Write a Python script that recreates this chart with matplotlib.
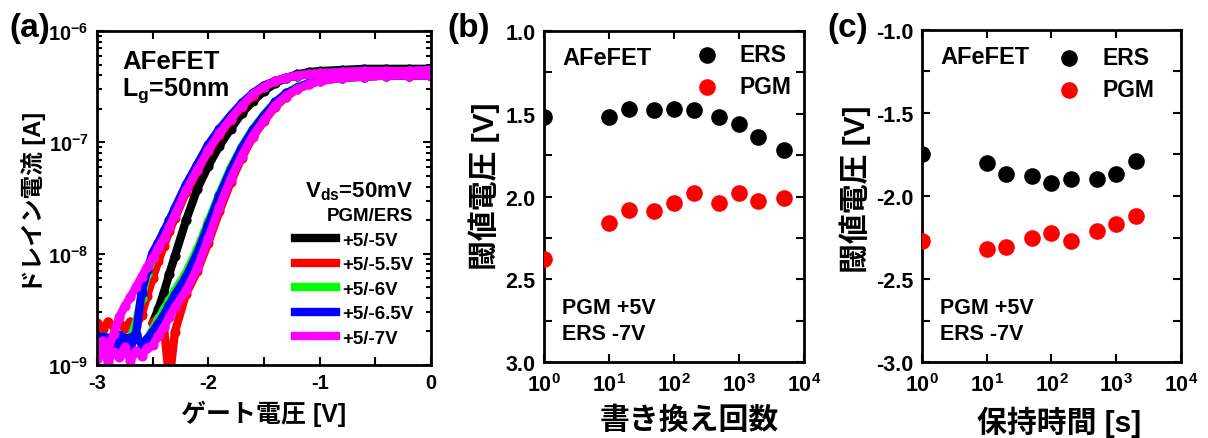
import numpy as np
import matplotlib
matplotlib.use("Agg")
import matplotlib.pyplot as plt
from matplotlib.lines import Line2D
from matplotlib.ticker import MultipleLocator, FormatStrFormatter, LogLocator, NullFormatter

plt.rcParams['font.family'] = ['Liberation Sans', 'Noto Sans CJK JP']
plt.rcParams['font.weight'] = 'bold'
plt.rcParams['axes.labelweight'] = 'bold'
plt.rcParams['axes.unicode_minus'] = False
plt.rcParams['mathtext.fontset'] = 'custom'
plt.rcParams['mathtext.rm'] = 'Liberation Sans:bold'
plt.rcParams['mathtext.it'] = 'Liberation Sans:bold'
plt.rcParams['mathtext.bf'] = 'Liberation Sans:bold'

# --- (a) Id-Vg curves, log10(Id [A]) read at each gate voltage ---
gate_v = [-3.0, -2.95, -2.9, -2.85, -2.8, -2.75, -2.7, -2.65, -2.6, -2.55, -2.5, -2.45, -2.4, -2.35, -2.3,
          -2.2, -2.1, -2.0, -1.9, -1.8, -1.7, -1.6, -1.5, -1.4, -1.3, -1.2, -1.1, -1.0,
          -0.8, -0.6, -0.4, -0.2, 0.0]
nan = float('nan')

log_id_black = [nan, nan, nan, nan, nan, nan, nan, nan, nan, nan, -8.62, -8.50, -8.35, -8.18, -8.02,
                -7.70, -7.42, -7.21, -7.03, -6.88, -6.74, -6.63, -6.54, -6.47, -6.42, -6.39, -6.37, -6.36,
                -6.35, -6.34, -6.34, -6.34, -6.34]
log_id_red_ers = [-8.62, -8.68, -8.61, -8.66, -8.62, -8.67, -8.61, -8.65, -8.55, -8.38, -8.22, -8.07, -7.93, -7.80, -7.68,
                  -7.45, -7.26, -7.08, -6.93, -6.80, -6.68, -6.58, -6.50, -6.45, -6.42, -6.40, -6.39, -6.38,
                  -6.37, -6.36, -6.36, -6.36, -6.35]
log_id_red_pgm = [nan, nan, nan, nan, nan, nan, nan, nan, nan, nan, -8.62, -8.58, -8.65, -9.15, -8.70,
                  -8.36, -8.16, -7.90, -7.62, -7.36, -7.14, -6.95, -6.81, -6.68, -6.59, -6.52, -6.48, -6.45,
                  -6.42, -6.41, -6.40, -6.40, -6.40]
log_id_green_ers = [-8.76, -8.82, -8.78, -8.81, -8.75, -8.79, -8.76, -8.62, -8.40, -8.18, -8.04, -7.93, -7.82, -7.71, -7.60,
                    -7.39, -7.21, -7.03, -6.89, -6.76, -6.65, -6.56, -6.49, -6.45, -6.42, -6.40, -6.39, -6.38,
                    -6.37, -6.36, -6.36, -6.36, -6.35]
log_id_green_pgm = [-8.82, -8.75, -8.84, -8.78, -8.86, -8.76, -8.83, -8.74, -8.81, -8.77, -8.68, -8.59, -8.50, -8.42, -8.33,
                    -8.17, -7.96, -7.71, -7.46, -7.23, -7.04, -6.88, -6.75, -6.64, -6.56, -6.50, -6.47, -6.44,
                    -6.42, -6.41, -6.40, -6.40, -6.40]
log_id_blue_ers = [-8.74, -8.82, -8.76, -8.81, -8.73, -8.79, -8.76, -8.72, -8.35, -8.15, -7.99, -7.90, -7.80, -7.70, -7.59,
                   -7.38, -7.20, -7.02, -6.88, -6.76, -6.65, -6.56, -6.49, -6.45, -6.42, -6.40, -6.39, -6.38,
                   -6.37, -6.36, -6.36, -6.36, -6.35]
log_id_blue_pgm = [-8.82, -8.75, -8.84, -8.78, -8.86, -8.76, -8.83, -8.74, -8.81, -8.77, -8.70, -8.63, -8.55, -8.46, -8.37,
                   -8.21, -8.00, -7.74, -7.48, -7.25, -7.05, -6.89, -6.76, -6.64, -6.56, -6.51, -6.47, -6.44,
                   -6.42, -6.41, -6.40, -6.40, -6.40]
log_id_magenta_ers = [-8.90, -8.78, -8.86, -8.72, -8.57, -8.47, -8.39, -8.30, -8.21, -8.12, -8.04, -7.95, -7.86, -7.76, -7.65,
                      -7.43, -7.25, -7.07, -6.92, -6.79, -6.67, -6.57, -6.50, -6.45, -6.42, -6.40, -6.39, -6.38,
                      -6.37, -6.36, -6.36, -6.36, -6.35]
log_id_magenta_pgm = [-8.95, -8.85, -8.97, -8.88, -8.93, -8.84, -8.96, -8.87, -8.92, -8.85, -8.82, -8.74, -8.66, -8.57, -8.48,
                      -8.33, -8.13, -7.86, -7.58, -7.33, -7.12, -6.94, -6.80, -6.67, -6.58, -6.52, -6.48, -6.45,
                      -6.42, -6.41, -6.40, -6.40, -6.40]

pulse_labels = ['+5/-5V', '+5/-5.5V', '+5/-6V', '+5/-6.5V', '+5/-7V']
pulse_colors = ['black', '#ff0000', '#00ff00', '#0000ff', '#ff00ff']

# --- (b) endurance ---
cycles = [1, 10, 20, 50, 100, 200, 500, 1000, 2000, 5000]
vth_ers_cycle = [1.52, 1.52, 1.47, 1.48, 1.47, 1.48, 1.52, 1.56, 1.64, 1.72]
vth_pgm_cycle = [2.38, 2.16, 2.08, 2.09, 2.04, 1.98, 2.04, 1.98, 2.03, 2.01]

# --- (c) retention ---
ret_time = [1, 10, 20, 50, 100, 200, 500, 1000, 2000]
vth_ers_ret = [-1.75, -1.80, -1.87, -1.88, -1.92, -1.90, -1.90, -1.87, -1.79]
vth_pgm_ret = [-2.27, -2.32, -2.31, -2.25, -2.22, -2.27, -2.21, -2.17, -2.12]

fig = plt.figure(figsize=(12.08, 4.39), dpi=100)
ax_a = fig.add_axes([0.0803, 0.1663, 0.2765, 0.7608])
ax_b = fig.add_axes([0.4503, 0.1731, 0.2152, 0.7540])
ax_c = fig.add_axes([0.7632, 0.1731, 0.2144, 0.7563])


def style_axes(ax, size, pad=6):
    for s in ax.spines.values():
        s.set_linewidth(2)
    ax.tick_params(which='both', direction='in', top=True, right=True, width=1.5,
                   labelsize=size, pad=pad)
    ax.tick_params(which='major', length=6)
    ax.tick_params(which='minor', length=3.5)


# (a)
curves = [
    (log_id_black, 'black'),
    (log_id_red_ers, '#ff0000'), (log_id_red_pgm, '#ff0000'),
    (log_id_green_ers, '#00ff00'), (log_id_green_pgm, '#00ff00'),
    (log_id_blue_ers, '#0000ff'), (log_id_blue_pgm, '#0000ff'),
    (log_id_magenta_ers, '#ff00ff'), (log_id_magenta_pgm, '#ff00ff'),
]
for vals, col in curves:
    ax_a.plot(gate_v, 10 ** np.array(vals), color=col, lw=6, marker='o', ms=6.3,
              solid_capstyle='round', solid_joinstyle='round')
ax_a.set_yscale('log')
ax_a.set_xlim(-3, 0)
ax_a.set_ylim(1e-9, 1e-6)
ax_a.xaxis.set_major_locator(MultipleLocator(1))
ax_a.xaxis.set_minor_locator(MultipleLocator(0.5))
ax_a.set_yticks([1e-9, 1e-8, 1e-7, 1e-6])
ax_a.set_yticklabels([r'$10^{-9}$', r'$10^{-8}$', r'$10^{-7}$', r'$10^{-6}$'])
ax_a.yaxis.set_minor_locator(LogLocator(base=10, subs=np.arange(2, 10)))
ax_a.yaxis.set_minor_formatter(NullFormatter())
style_axes(ax_a, 14.5)
ax_a.tick_params(axis='x', which='minor', length=6)
ax_a.set_xlabel('ゲート電圧 [V]', fontsize=18, labelpad=5)
ax_a.set_ylabel('ドレイン電流 [A]', fontsize=17, labelpad=2)
ax_a.yaxis.label.set_y(0.49)
ax_a.text(0.075, 0.91, 'AFeFET', transform=ax_a.transAxes, fontsize=18.5, va='center')
ax_a.text(0.075, 0.825, 'L$_g$=50nm', transform=ax_a.transAxes, fontsize=18, va='center')
ax_a.text(0.946, 0.521, 'V$_{ds}$=50mV', transform=ax_a.transAxes, fontsize=16,
          ha='right', va='center')
ax_a.text(0.946, 0.449, 'PGM/ERS', transform=ax_a.transAxes, fontsize=13.5,
          ha='right', va='center')
handles = [Line2D([], [], color=c, lw=6) for c in pulse_colors]
ax_a.legend(handles, pulse_labels, loc='upper left', bbox_to_anchor=(0.593, 0.40),
            frameon=False, fontsize=13.5, handlelength=2.2, handletextpad=0.32,
            labelspacing=0.40, borderpad=0, borderaxespad=0)

# (b)
ax_b.scatter(cycles, vth_ers_cycle, s=120, color='black', label='ERS', zorder=3)
ax_b.scatter(cycles, vth_pgm_cycle, s=120, color='#ff0000', label='PGM', zorder=3)
ax_b.set_xscale('log')
ax_b.set_xlim(1, 1e4)
ax_b.set_ylim(3.0, 1.0)
ax_b.yaxis.set_major_locator(MultipleLocator(0.5))
ax_b.yaxis.set_minor_locator(MultipleLocator(0.25))
ax_b.yaxis.set_major_formatter(FormatStrFormatter('%.1f'))

# (c)
ax_c.scatter(ret_time, vth_ers_ret, s=120, color='black', label='ERS', zorder=3)
ax_c.scatter(ret_time, vth_pgm_ret, s=120, color='#ff0000', label='PGM', zorder=3)
ax_c.set_xscale('log')
ax_c.set_xlim(1, 1e4)
ax_c.set_ylim(-3.0, -1.0)
ax_c.yaxis.set_major_locator(MultipleLocator(0.5))
ax_c.yaxis.set_minor_locator(MultipleLocator(0.25))
ax_c.yaxis.set_major_formatter(FormatStrFormatter('%.1f'))

panel_setup = [
    (ax_b, '書き換え回数', 0.558, 0.535, 0.538, 0.964),
    (ax_c, '保持時間 [s]', 0.531, 0.524, 0.479, 0.952),
]
for ax, xl, xlab_x, ylab_y, lx, ly in panel_setup:
    ax.set_xticks([1, 10, 100, 1000, 10000])
    ax.set_xticklabels([r'$10^{0}$', r'$10^{1}$', r'$10^{2}$', r'$10^{3}$', r'$10^{4}$'])
    ax.xaxis.set_minor_locator(LogLocator(base=10, subs=np.arange(2, 10)))
    ax.xaxis.set_minor_formatter(NullFormatter())
    style_axes(ax, 15.5)
    ax.tick_params(axis='x', which='major', pad=8)
    ax.tick_params(axis='y', which='minor', length=6)
    ax.set_xlabel(xl, fontsize=21.5, labelpad=7)
    ax.xaxis.label.set_x(xlab_x)
    ax.set_ylabel('閾値電圧 [V]', fontsize=21.5, labelpad=4)
    ax.yaxis.label.set_y(ylab_y)
    ax.text(0.07, 0.92, 'AFeFET', transform=ax.transAxes, fontsize=17, va='center')
    ax.text(0.07, 0.165, 'PGM +5V', transform=ax.transAxes, fontsize=15.5, va='center')
    ax.text(0.07, 0.087, 'ERS -7V', transform=ax.transAxes, fontsize=15.5, va='center')
    ax.legend(loc='upper left', bbox_to_anchor=(lx, ly), frameon=False, fontsize=16.5,
              scatterpoints=1, handletextpad=0.45, labelspacing=0.39,
              borderpad=0, borderaxespad=0)

fig.text(0.008, 0.935, '(a)', fontsize=24, va='center')
fig.text(0.37, 0.935, '(b)', fontsize=24, va='center')
fig.text(0.685, 0.935, '(c)', fontsize=24, va='center')

fig.savefig('out.png', dpi=100)
